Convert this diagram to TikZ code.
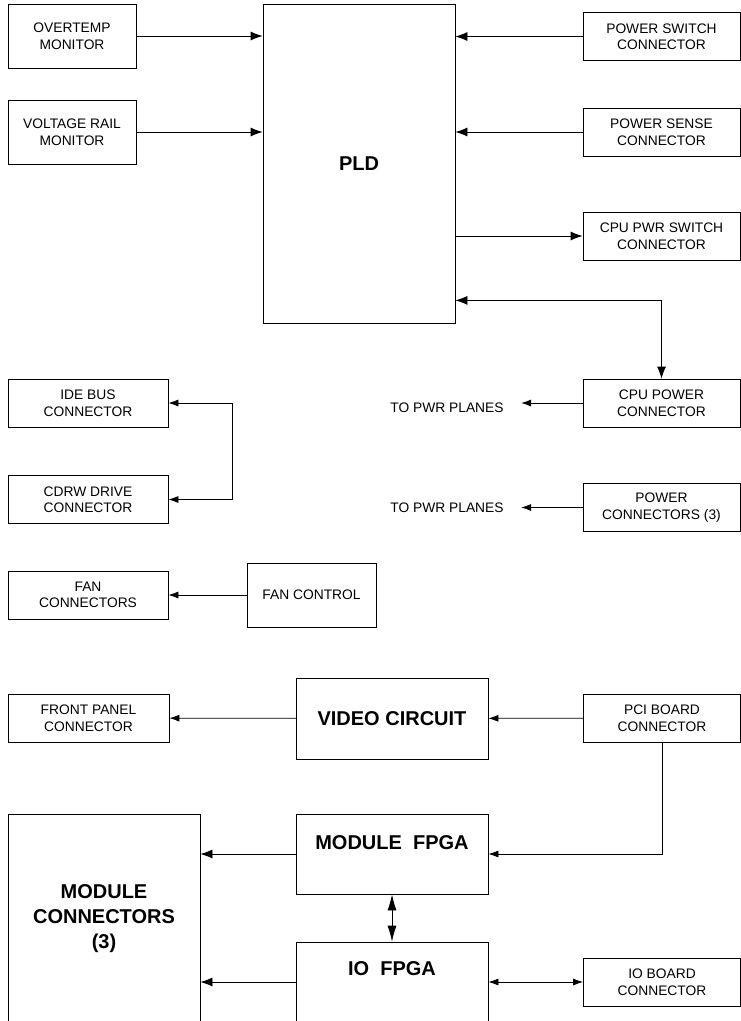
\documentclass[tikz,border=0pt]{standalone}
\usepackage{fontspec}
\setmainfont{Liberation Sans}
\usetikzlibrary{arrows.meta,positioning,calc}

\begin{document}
\begin{tikzpicture}[x=1pt,y=-1pt,
  bx/.style={draw,line width=0.8pt,inner sep=0pt,align=center,
    font=\fontsize{13.8}{16.5}\selectfont},
  big/.style={font=\fontsize{20}{25}\selectfont\bfseries},
  cn/.style={bx,minimum width=157pt,minimum height=48pt},
  ar/.style={-{Latex[length=12pt,width=9pt]},line width=0.8pt},
  ars/.style={-{Latex[length=10pt,width=7pt]},line width=0.8pt},
  lr/.style={{Latex[length=10pt,width=7pt]}-{Latex[length=10pt,width=7pt]},line width=0.8pt}
]
\useasboundingbox (0,0) rectangle (741,1021);
\node[bx,minimum width=128pt,minimum height=64pt] (ovt) at (72,36) {OVERTEMP\\MONITOR};
\node[bx,minimum width=128pt,minimum height=64pt] (vrm) at (72,132) {VOLTAGE RAIL\\MONITOR};
\node[bx,big,minimum width=192pt,minimum height=319pt] (pld) at (359,163.5) {PLD};
\node[cn] (psw) at (661.5,36.5) {POWER SWITCH\\CONNECTOR};
\node[cn] (pse) at (661.5,132) {POWER SENSE\\CONNECTOR};
\node[cn] (cpsw) at (661.5,236) {CPU PWR SWITCH\\CONNECTOR};
\node[cn] (cpp) at (661.5,403) {CPU POWER\\CONNECTOR};
\node[cn] (pwc) at (661.5,507.5) {POWER\\CONNECTORS (3)};
\node[font=\fontsize{13.8}{16.5}\selectfont] (tp1) at (447,408) {TO PWR PLANES};
\node[font=\fontsize{13.8}{16.5}\selectfont] (tp2) at (447,508) {TO PWR PLANES};
\node[bx,minimum width=160pt,minimum height=48pt] (ide) at (88,403) {IDE BUS\\CONNECTOR};
\node[bx,minimum width=160pt,minimum height=48pt] (cdrw) at (88,499.5) {CDRW DRIVE\\CONNECTOR};
\node[bx,minimum width=160pt,minimum height=48pt] (fan) at (88,595) {FAN\\CONNECTORS};
\node[bx,minimum width=129pt,minimum height=64pt] (fanctl) at (311.5,595) {FAN CONTROL};
\node[bx,minimum width=161pt,minimum height=48pt] (fp) at (88.5,718) {FRONT PANEL\\CONNECTOR};
\node[bx,big,minimum width=192pt,minimum height=81pt] (vid) at (392,718.5) {VIDEO CIRCUIT};
\node[cn] (pci) at (662,718) {PCI BOARD\\CONNECTOR};
\node[bx,minimum width=192pt,minimum height=80pt,
  label={[big,anchor=north,yshift=-18pt]north:MODULE\ \ FPGA}] (mfpga) at (392,854) {};
\node[bx,minimum width=192pt,minimum height=88pt,
  label={[big,anchor=north,yshift=-16pt]north:IO\ \ FPGA}] (iofpga) at (392,986) {};
\node[bx,big,minimum width=192pt,minimum height=210pt] (modc) at (104,919) {MODULE\\CONNECTORS\\(3)};
\node[cn] (iob) at (662,982) {IO BOARD\\CONNECTOR};

\draw[ar] (ovt) -- (ovt -| pld.west);
\draw[ar] (vrm) -- (vrm -| pld.west);
\draw[ar] (psw) -- (psw -| pld.east);
\draw[ar] (pse) -- (pse -| pld.east);
\draw[ar] (cpsw -| pld.east) -- (cpsw);
\draw[{Latex[length=12pt,width=9pt]}-{Latex[length=12pt,width=9pt]},line width=0.8pt]
  ($(pld.south east)+(0,-23)$) -| (cpp.north);
\draw[ars,shorten >=14pt] (cpp) -- (tp1.east |- cpp);
\draw[ars,shorten >=14pt] (pwc) -- (tp2.east |- pwc);
\draw[lr] (ide.east) -- ++(64,0) |- (cdrw.east);
\draw[ars] (fanctl) -- (fanctl -| fan.east);
\draw[ars] (vid) -- (fp);
\draw[ars] (pci) -- (vid);
\draw[ars] (pci.south) |- (mfpga.east);
\draw[ar] (mfpga) -- (mfpga -| modc.east);
\draw[{Latex[length=16pt,width=9pt]}-{Latex[length=16pt,width=9pt]},line width=0.8pt] (mfpga) -- (iofpga);
\draw[ar] (iob -| iofpga.west) -- (iob -| modc.east);
\draw[lr] (iob -| iofpga.east) -- (iob);
\end{tikzpicture}
\end{document}
